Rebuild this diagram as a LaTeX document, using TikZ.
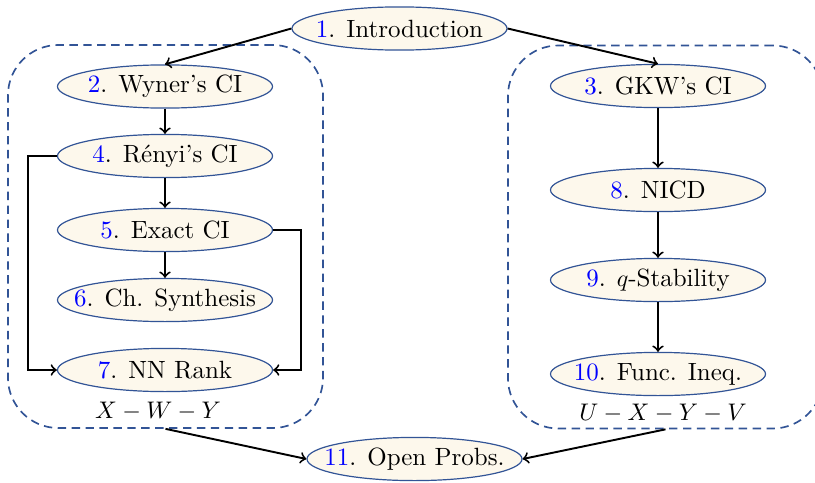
\documentclass[tikz,border=0pt]{standalone}
\usetikzlibrary{shapes.geometric,calc}
\definecolor{nodefill}{RGB}{253,248,236}
\definecolor{nodeline}{RGB}{50,84,150}
\definecolor{boxline}{RGB}{50,84,150}
% section label: blue number, then the title; zero-width box keeps every ellipse the same size
\newcommand{\secttext}[2]{\makebox[0pt]{\textcolor{blue}{#1}. #2}}
\begin{document}
\begin{tikzpicture}[x=0.4167pt,y=-0.4167pt,
  every node/.style={font=\fontsize{10.4pt}{12.5pt}\selectfont},
  sec/.style={ellipse, draw=nodeline, fill=nodefill, line width=0.5pt,
    inner sep=0pt, minimum width=89.6pt, minimum height=18pt},
  link/.style={->, line width=0.8pt, black},
  group/.style={draw=boxline, dash pattern=on 3.5pt off 2.3pt, line width=0.7pt,
    rounded corners=21pt, minimum width=131.3pt, minimum height=159.6pt, inner sep=0pt},
  chain/.style={inner sep=0pt}]
\useasboundingbox (0,0) rectangle (815,482);

% dashed groups
\node[group] (leftbox) at (165.5,236.5) {};
\node[group] (rightbox) at (665.5,237) {};

% sections
\node[sec] (intro) at (399.5,28.5) {\secttext{1}{Introduction}};
\node[sec] (wyner) at (165,86.5) {\secttext{2}{Wyner's CI}};
\node[sec] (renyi) at (165,156) {\secttext{4}{Rényi's CI}};
\node[sec] (exact) at (165,230) {\secttext{5}{Exact CI}};
\node[sec] (synth) at (165,300) {\secttext{6}{Ch. Synthesis}};
\node[sec] (rank)  at (165,370) {\secttext{7}{NN Rank}};
\node[sec] (gkw)   at (658,86) {\secttext{3}{GKW's CI}};
\node[sec] (nicd)  at (658,190) {\secttext{8}{NICD}};
\node[sec] (stab)  at (658,280) {\secttext{9}{$q$-Stability}};
\node[sec] (func)  at (658,374) {\secttext{10}{Func. Ineq.}};
\node[sec] (open)  at (414.5,459) {\secttext{11}{Open Probs.}};

% Markov chain labels
\node[chain] (lchain) at (158,411) {$X - W - Y$};
\node[chain] (rchain) at (663,413) {$U - X - Y - V$};

% dependencies
\draw[link] (intro.west) -- (wyner.north);
\draw[link] (intro.east) -- (gkw.north);
\draw[link] (wyner) -- (renyi);
\draw[link] (renyi) -- (exact);
\draw[link] (exact) -- (synth);
\draw[link] (renyi.west) -- ++(-29,0) |- (rank.west);
\draw[link] (exact.east) -- ++(28,0) |- (rank.east);
\draw[link] (gkw) -- (nicd);
\draw[link] (nicd) -- (stab);
\draw[link] (stab) -- (func);
\draw[link] (leftbox.south) -- (open.west);
\draw[link] (rightbox.south) -- (open.east);
\end{tikzpicture}
\end{document}
